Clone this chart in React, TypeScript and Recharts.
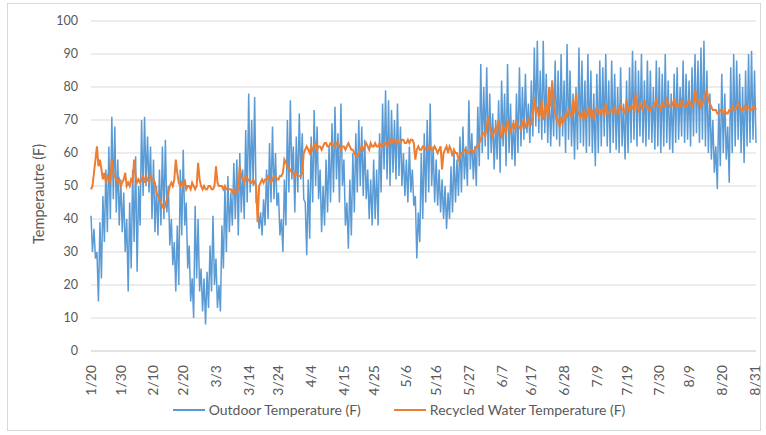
import React from 'react'
import {
  LineChart,
  Line,
  XAxis,
  YAxis,
  CartesianGrid,
  Legend,
} from 'recharts'

// x-axis date labels, every ~10.6 days from 1/20 to 8/31
const tickLabels = [
  '1/20', '1/30', '2/10', '2/20', '3/3', '3/14', '3/24', '4/4', '4/15', '4/25', '5/6',
  '5/16', '5/27', '6/7', '6/17', '6/28', '7/9', '7/19', '7/30', '8/9', '8/20', '8/31',
]

const yTicks = [0, 10, 20, 30, 40, 50, 60, 70, 80, 90, 100]

// two readings per day (day high / night low)
const outdoorTemp = [
  41, 30, 37, 28, 30, 15, 39, 22, 47, 33, 55, 36, 62, 40, 71, 46, 68, 42, 58, 38, // 1/20
  52, 36, 48, 30, 40, 18, 45, 25, 55, 33, 59, 24, 50, 38, 70, 47, 71, 50, 65, 48, // 1/30
  62, 40, 58, 36, 50, 35, 55, 38, 62, 40, 64, 42, 50, 32, 40, 26, 33, 18, 38, 20, // 2/9
  55, 35, 61, 38, 45, 25, 32, 15, 22, 10, 44, 22, 40, 18, 25, 12, 22, 8, 24, 13, // 2/19
  32, 18, 41, 20, 28, 13, 20, 12, 38, 25, 50, 30, 53, 36, 48, 38, 57, 40, 58, 35, // 3/1
  60, 42, 55, 40, 67, 45, 78, 48, 70, 50, 77, 45, 45, 37, 42, 35, 46, 38, 55, 40, // 3/11
  63, 45, 68, 46, 60, 44, 48, 35, 40, 30, 52, 38, 70, 48, 76, 52, 62, 42, 65, 48, // 3/21
  72, 52, 66, 46, 45, 29, 52, 34, 65, 45, 73, 50, 68, 46, 55, 36, 50, 38, 58, 42, // 3/31
  62, 45, 69, 48, 74, 52, 66, 45, 75, 50, 58, 38, 45, 31, 52, 35, 60, 42, 66, 48, // 4/10
  70, 50, 68, 47, 64, 46, 55, 40, 52, 38, 58, 40, 55, 38, 66, 48, 75, 55, 79, 52, // 4/20
  76, 50, 73, 54, 70, 52, 75, 53, 68, 50, 60, 47, 58, 45, 62, 48, 55, 44, 47, 28, // 4/30
  42, 33, 60, 40, 66, 45, 70, 48, 75, 50, 62, 45, 58, 44, 55, 42, 52, 40, 50, 37, // 5/10
  48, 40, 56, 42, 60, 45, 58, 47, 65, 48, 68, 52, 62, 50, 76, 55, 66, 52, 62, 50, // 5/20
  74, 56, 87, 60, 80, 62, 86, 58, 78, 60, 72, 55, 70, 58, 76, 54, 82, 62, 78, 56, // 5/30
  87, 60, 75, 58, 70, 56, 78, 60, 86, 62, 80, 64, 84, 66, 75, 63, 82, 65, 92, 68, // 6/9
  94, 66, 85, 64, 94, 66, 84, 63, 80, 62, 78, 65, 88, 64, 85, 62, 90, 65, 82, 60, // 6/19
  93, 64, 85, 62, 78, 58, 80, 61, 92, 63, 88, 62, 82, 60, 90, 62, 85, 60, 78, 56, // 6/29
  84, 60, 88, 62, 86, 65, 90, 62, 82, 60, 88, 63, 84, 61, 80, 60, 86, 62, 75, 58, // 7/9
  82, 60, 86, 63, 91, 64, 88, 62, 85, 65, 90, 63, 82, 62, 88, 64, 85, 63, 80, 61, // 7/19
  88, 62, 86, 60, 84, 62, 90, 63, 82, 61, 78, 60, 84, 63, 86, 64, 80, 65, 88, 63, // 7/29
  84, 64, 82, 62, 86, 65, 90, 66, 88, 63, 92, 64, 94, 62, 85, 60, 78, 58, 70, 54, // 8/8
  62, 49, 75, 56, 84, 60, 78, 58, 68, 51, 86, 60, 90, 62, 88, 64, 84, 60, 80, 57, // 8/18
  85, 62, 90, 63, 91, 64, 85, 63, // 8/28
]

const recycledTemp = [
  49, 50, 54, 58, 62, 56, 58, 55, 52, 54, 51, 53, 52, 51, 58, 54, 53, 52, 51, 52, // 1/20
  50, 51, 52, 54, 50, 51, 50, 52, 51, 58, 53, 51, 52, 51, 52, 53, 51, 53, 52, 51, // 1/30
  53, 52, 52, 51, 48, 47, 46, 45, 44, 43, 44, 46, 48, 50, 51, 50, 52, 58, 54, 51, // 2/9
  50, 51, 50, 52, 49, 50, 50, 49, 51, 50, 49, 50, 57, 52, 50, 49, 50, 49, 49, 50, // 2/19
  50, 49, 49, 50, 56, 51, 50, 50, 50, 49, 50, 49, 49, 49, 49, 48, 49, 48, 48, 49, // 3/1
  56, 53, 52, 51, 53, 52, 52, 51, 51, 52, 51, 50, 39, 50, 51, 52, 51, 52, 52, 53, // 3/11
  52, 51, 52, 53, 53, 52, 52, 53, 53, 54, 58, 57, 56, 55, 55, 54, 54, 53, 54, 53, // 3/21
  53, 53, 54, 60, 61, 62, 61, 60, 62, 61, 62, 63, 61, 62, 62, 61, 62, 63, 63, 62, // 3/31
  62, 63, 63, 62, 62, 63, 63, 62, 61, 62, 62, 61, 62, 63, 62, 61, 61, 60, 59, 59, // 4/10
  60, 61, 62, 61, 62, 63, 62, 61, 63, 62, 62, 63, 62, 62, 63, 62, 62, 63, 63, 62, // 4/20
  63, 64, 63, 64, 64, 63, 64, 63, 63, 64, 64, 63, 63, 64, 63, 64, 64, 63, 58, 61, // 4/30
  62, 61, 61, 62, 62, 61, 61, 62, 62, 61, 61, 62, 61, 60, 61, 62, 55, 60, 61, 62, // 5/10
  60, 62, 61, 59, 61, 60, 60, 58, 59, 60, 60, 61, 61, 60, 60, 61, 61, 60, 61, 62, // 5/20
  62, 63, 64, 66, 66, 65, 68, 71, 68, 66, 65, 67, 66, 68, 70, 66, 65, 68, 67, 66, // 5/30
  70, 68, 66, 68, 69, 67, 70, 68, 68, 67, 69, 70, 68, 69, 70, 68, 69, 72, 77, 72, // 6/9
  74, 71, 72, 76, 70, 73, 75, 71, 80, 74, 82, 76, 72, 70, 70, 68, 71, 69, 70, 72, // 6/19
  71, 73, 72, 71, 76, 72, 78, 73, 72, 71, 72, 70, 73, 71, 72, 74, 71, 73, 70, 72, // 6/29
  74, 72, 72, 73, 73, 71, 75, 72, 72, 73, 73, 72, 74, 72, 72, 73, 75, 73, 73, 72, // 7/9
  76, 73, 73, 74, 74, 73, 78, 74, 73, 75, 74, 73, 76, 74, 74, 73, 73, 74, 74, 75, // 7/19
  76, 74, 74, 73, 75, 74, 74, 77, 75, 74, 74, 75, 76, 74, 75, 74, 74, 76, 75, 74, // 7/29
  74, 75, 76, 75, 74, 75, 79, 77, 75, 76, 74, 75, 76, 78, 79, 76, 75, 74, 73, 73, // 8/8
  73, 72, 72, 73, 73, 72, 73, 72, 72, 73, 73, 74, 73, 73, 74, 75, 74, 73, 73, 74, // 8/18
  73, 74, 74, 73, 73, 74, 74, 73, // 8/28
]

const START = Date.UTC(2019, 0, 20)
const dayOf = (label: string) => {
  const [m, d] = label.split('/').map(Number)
  return (Date.UTC(2019, m - 1, d) - START) / 86400000
}
const tickDays = tickLabels.map(dayOf)

const data = outdoorTemp.map((v, i) => ({
  day: i / 2,
  outdoor: v,
  recycled: recycledTemp[i],
}))

const FONT = 'Lato, "Open Sans", sans-serif'
const TEXT = '#595959'

const DateTick = (props: any) => {
  const { x, y, payload } = props
  const label = tickLabels[tickDays.indexOf(payload.value)] ?? ''
  return (
    <text
      x={0}
      y={0}
      transform={`translate(${x + 5},${y + 6}) rotate(-90)`}
      textAnchor="end"
      fill={TEXT}
      fontSize={14}
      fontFamily={FONT}>
      {label}
    </text>
  )
}

const LegendContent = () => (
  <div
    style={{
      display: 'flex',
      justifyContent: 'center',
      gap: 33,
      fontFamily: FONT,
      fontSize: 14,
      color: TEXT,
      paddingLeft: 2,
    }}>
    {[
      ['Outdoor Temperature (F)', '#5B9BD5'],
      ['Recycled Water Temperature (F)', '#ED7D31'],
    ].map(([name, color]) => (
      <div key={name} style={{ display: 'flex', alignItems: 'center' }}>
        <span
          style={{
            display: 'inline-block',
            width: 32,
            height: 2,
            background: color,
            marginRight: 4,
          }}
        />
        {name}
      </div>
    ))}
  </div>
)

const App = () => (
  <div style={{ position: 'absolute', left: 0, top: 0, width: 766, height: 435 }}>
    <div
      style={{
        position: 'absolute',
        left: 7,
        top: 3,
        width: 752,
        height: 426,
        border: '1px solid #d9d9d9',
      }}
    />
    <LineChart
      width={766}
      height={435}
      data={data}
      margin={{ top: 21, right: 10, left: 40, bottom: 4 }}>
      <CartesianGrid vertical={false} stroke="#d9d9d9" />
      <XAxis
        dataKey="day"
        type="number"
        domain={[0, 223.5]}
        ticks={tickDays}
        interval={0}
        tick={<DateTick />}
        tickLine={false}
        axisLine={{ stroke: '#d9d9d9' }}
        height={50}
      />
      <YAxis
        domain={[0, 100]}
        ticks={yTicks}
        interval={0}
        width={51}
        tickLine={false}
        axisLine={false}
        tickMargin={7}
        tick={{ fill: TEXT, fontSize: 12.5, fontFamily: FONT }}
        label={{
          value: 'Temperautre (F)',
          angle: -90,
          position: 'insideLeft',
          dx: -6,
          dy: 58,
          style: { fill: TEXT, fontSize: 14.5, fontFamily: FONT },
        }}
      />
      <Legend verticalAlign="bottom" height={30} content={<LegendContent />} />
      <Line
        dataKey="outdoor"
        name="Outdoor Temperature (F)"
        stroke="#5B9BD5"
        strokeWidth={1.5}
        dot={false}
        isAnimationActive={false}
      />
      <Line
        dataKey="recycled"
        name="Recycled Water Temperature (F)"
        stroke="#ED7D31"
        strokeWidth={2}
        dot={false}
        isAnimationActive={false}
      />
    </LineChart>
  </div>
)

export default App
